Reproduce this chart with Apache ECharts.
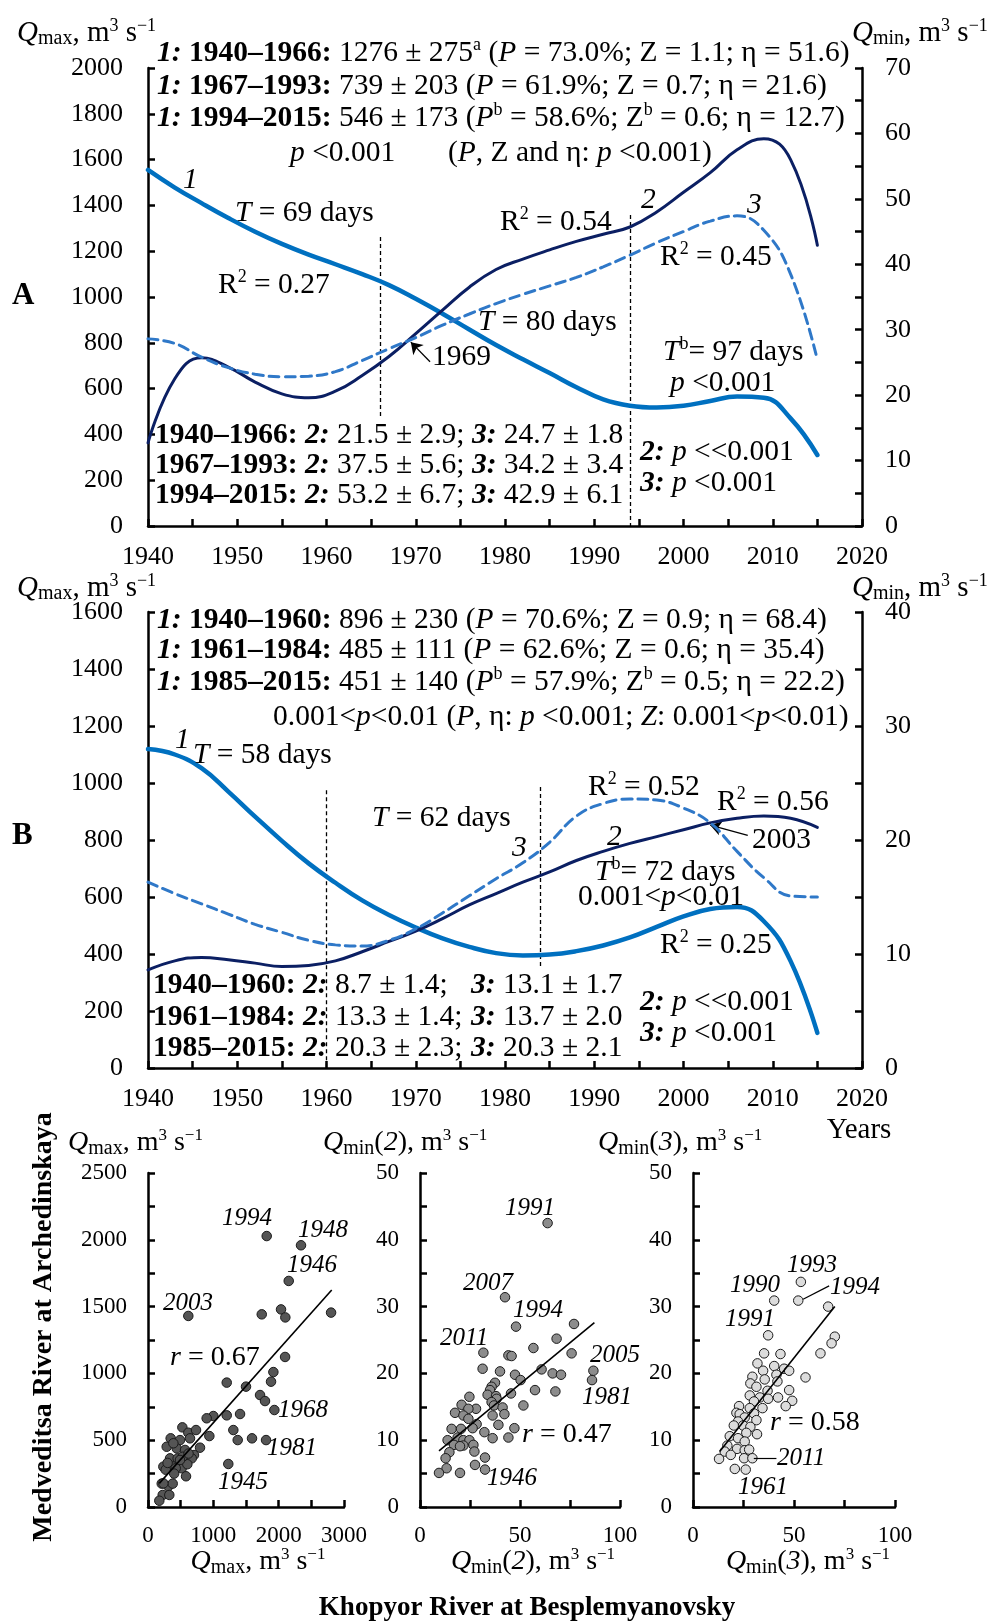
<!DOCTYPE html>
<html><head><meta charset="utf-8">
<script src="https://cdn.jsdelivr.net/npm/echarts@6/dist/echarts.min.js"></script>
<style>html,body{margin:0;padding:0;background:#fff}#c{width:994px;height:1622px}</style>
</head><body><div id="c"></div>
<script>
// ---------- DATA ----------
// Years sampled every 3 years, 1940-2015
const years = [1940,1943,1946,1949,1952,1955,1958,1961,1964,1967,1970,1973,1976,1979,1982,1985,1988,1991,1994,1997,2000,2003,2006,2009,2012,2015];
// Panel A (Medveditsa): curve 1 = Qmax (left axis), curves 2,3 = Qmin (right axis)
const aQmax  = [1555,1478,1410,1345,1285,1232,1185,1143,1100,1052,992,927,858,790,728,668,606,553,525,517,525,546,565,560,470,310];
const aQmin2 = [12.7,22.5,25.7,24.3,22.0,20.2,19.6,20.6,23.0,25.9,29.4,33.0,36.5,39.2,40.8,42.2,43.5,44.6,45.7,48.0,51.0,54.0,57.5,59.2,56.0,42.9];
const aQmin3 = [28.6,27.9,25.8,24.2,23.2,22.8,22.9,23.6,25.3,27.1,28.8,30.7,32.4,34.0,35.4,36.7,38.0,39.6,41.4,43.3,45.0,46.6,47.4,45.2,38.5,25.4];
// Panel B (Khopyor)
const bQmax  = [1119,1100,1052,970,882,797,718,650,588,537,493,455,425,403,395,398,410,430,458,495,532,558,565,515,375,123];
const bQmin2 = [8.6,9.4,9.7,9.5,9.2,8.9,9.0,9.4,10.2,11.1,12.0,13.1,14.3,15.3,16.3,17.2,18.2,19.0,19.7,20.3,20.9,21.5,21.9,22.1,21.9,21.1];
const bQmin3 = [16.3,15.3,14.4,13.5,12.6,11.9,11.2,10.8,10.7,11.2,12.2,13.6,15.1,16.6,18.0,19.8,22.1,23.2,23.6,23.5,22.8,21.5,19.0,16.7,15.1,15.0];
// Period boundaries (vertical dashed lines): [year, yTop, yBottom] on left axis
const aBreaks = [[1966,1262,476],[1994,1358,0]];
const bBreaks = [[1960,975,0],[1984,986,358]];
// Scatter: [Khopyor, Medveditsa]
const scQmax = [[1817,2028],[2342,1959],[2154,1692],[617,1430],[1741,1442],[2036,1479],[2102,1419],[2802,1455],[2098,1123],[1919,1010],[1883,938],[1500,901],[1205,931],[1715,838],[1791,793],[1934,726],[1409,696],[1205,686],[1000,681],[898,664],[1306,576],[939,531],[1373,501],[1592,514],[1807,501],[1229,322],
 [526,596],[617,556],[735,576],[643,514],[490,501],[347,514],[796,444],[704,389],[439,439],[567,427],[337,364],[454,364],[669,364],[235,302],[388,302],[516,290],[602,320],[271,279],[424,290],[582,230],[210,175],[311,155],[378,175],[225,90],[326,90],[173,47],[531,376],[286,451],[388,477],[490,352],[235,177],[620,400],[400,250],[300,330]];
const scQmin2 = [[63.8,42.5],[42.5,31.4],[48,27.0],[77,27.4],[68.3,25.2],[56.7,23.8],[75.8,23.0],[31.7,23.1],[44.2,22.7],[45.8,22.6],[31.3,20.7],[60.8,20.6],[66.3,20.0],[70.5,19.8],[86.7,20.4],[86,19.0],[47.5,19.8],[50.3,19.0],[40,20.3],[37.5,18.6],[35.8,18.0],[35,17.5],[57.5,17.5],[67.7,17.3],[45.5,17.0],[33.8,16.8],[38,16.6],[24.7,16.5],[38.3,16.2],[51.7,15.2],[35.8,15.7],[37,15.2],[20.8,15.3],[41.3,14.9],[28,14.7],[24.2,14.7],[17.5,14.1],[42.2,13.9],[36.3,13.7],[21.7,13.7],[24.2,13.2],[39.2,12.3],[28.3,12.4],[15.8,11.7],[20.5,11.7],[47.2,11.8],[26.3,11.8],[32.2,11.2],[36.3,10.3],[44.2,10.4],[13.8,10.0],[18.8,10.4],[21.7,10.0],[24.7,10.0],[17,9.3],[21.7,9.2],[20,9.1],[26.7,9.3],[14.7,8.2],[27.2,8.3],[12.8,7.3],[32.5,7.4],[27.5,6.3],[13.3,5.8],[32.5,5.6],[9.5,5.1],[20,5.1]];
const scQmin3 = [[53.4,33.7],[40.2,30.9],[52.1,30.9],[66.9,30.0],[37.2,25.7],[70.2,25.5],[68.6,24.5],[63.1,23.0],[35.2,23.0],[43.3,22.9],[31.9,21.5],[40.2,21.1],[34.7,20.4],[45.1,20.7],[47.6,20.4],[41.3,19.8],[55.7,19.4],[29.4,19.5],[35.5,19.1],[41.8,18.8],[28.4,18.5],[31.4,18.0],[36.9,17.4],[47.6,17.5],[28.1,16.7],[33.1,16.4],[42.1,16.4],[37.2,16.2],[49.1,15.9],[30.2,15.8],[45.9,15.1],[22.8,15.1],[34.4,14.8],[28.1,14.8],[21.5,14.1],[23.1,13.9],[30.2,14.0],[25.6,13.4],[31.4,13.0],[22.3,12.8],[20.2,12.2],[24.8,12.2],[28.4,12.0],[26.4,11.1],[31.7,10.9],[18.2,10.6],[22.3,10.3],[25.6,9.8],[17,9.2],[21.8,8.7],[25.6,8.5],[27.8,8.6],[15.7,8.3],[18.7,7.8],[25.3,7.3],[29.4,7.3],[12.9,7.2],[20.7,5.7],[26.1,5.6]];
const fitQmax  = [[173,177],[2812,1624]];
const fitQmin2 = [[9.5,8.4],[87.2,27.6]];
const fitQmin3 = [[13.2,8.3],[70.2,30.0]];
// Arrows / leaders (data coords)
const arrow1969 = [[1971.6,25.1],[1969.45,28.1]];
const arrow2003 = [[2007.2,20.4],[2003.0,21.3]];
const leader1994 = [[54.5,31.1],[67.4,33.1]];
const leader2011 = [[30.1,7.3],[41.3,7.3]];

// ---------- STYLE ----------
const F = 'Liberation Serif';
const C1 = '#0070C0', C2 = '#0B1F63', C3 = '#2F78C8';
const zip = (xs, ys) => xs.map((x, i) => [x, ys[i]]);
function mkRich(fs) {
  const base = {fontFamily: F, fontSize: fs, lineHeight: fs + 3, fill: '#000'};
  const sfs = Math.round(fs * 0.62), bfs = Math.round(fs * 0.7);
  return {
    r: Object.assign({}, base, {fontStyle: 'normal', fontWeight: 'normal'}),
    i: Object.assign({}, base, {fontStyle: 'italic', fontWeight: 'normal'}),
    b: Object.assign({}, base, {fontStyle: 'normal', fontWeight: 'bold'}),
    bi: Object.assign({}, base, {fontStyle: 'italic', fontWeight: 'bold'}),
    sup: {fontFamily: F, fontSize: sfs, lineHeight: sfs, verticalAlign: 'top', fill: '#000', fontStyle: 'normal', fontWeight: 'normal'},
    sub: {fontFamily: F, fontSize: bfs, lineHeight: bfs + 2, verticalAlign: 'bottom', fill: '#000', fontStyle: 'normal', fontWeight: 'normal'}
  };
}
function T(x, y, text, fs, align, rot) {
  fs = fs || 29.5; align = align || 'left';
  return {type: 'text', x: x, y: y, rotation: rot || 0, z: 100, silent: true,
    style: {text: text, rich: mkRich(fs), fill: '#000', fontFamily: F, fontSize: fs,
      align: align, verticalAlign: 'middle', textAlign: align, textVerticalAlign: 'middle'}};
}
const unitMax = '{i|Q}{sub|max}{r|, m}{sup|3}{r| s}{sup|−1}';
const unitMin = '{i|Q}{sub|min}{r|, m}{sup|3}{r| s}{sup|−1}';
const unitMinN = n => '{i|Q}{sub|min}{r|(}{i|' + n + '}{r|), m}{sup|3}{r| s}{sup|−1}';

const axLine = {show: true, onZero: false, lineStyle: {color: '#000', width: 2.5}};
const axTick = {show: true, inside: true, length: 7, lineStyle: {color: '#000', width: 2.5}};
const lab = (fs, margin, fmt) => ({show: true, fontFamily: F, fontSize: fs, color: '#000', margin: margin, formatter: fmt});
const every = n => (v => (Math.round(v) % n === 0 ? String(v) : ''));

function xAx(grid, min, max, interval, step, fs, margin) {
  return {type: 'value', gridIndex: grid, min, max, interval, axisLine: axLine, axisTick: axTick,
    splitLine: {show: false}, axisLabel: lab(fs, margin, every(step))};
}
function yAx(grid, min, max, interval, step, pos, fs, margin) {
  return {type: 'value', gridIndex: grid, position: pos, min, max, interval, axisLine: axLine, axisTick: axTick,
    splitLine: {show: false}, axisLabel: lab(fs, margin, every(step))};
}
const curve = (name, xi, yi, data, color, width, dash) => ({
  name, type: 'line', xAxisIndex: xi, yAxisIndex: yi, data, smooth: 0.45, showSymbol: false,
  lineStyle: {color, width, type: dash || 'solid', cap: 'round'}, itemStyle: {color}, z: 5, silent: true
});
const vLines = brks => ({silent: true, symbol: ['none', 'none'], label: {show: false}, emphasis: {disabled: true},
  lineStyle: {color: '#000', width: 1.3, type: [4, 3]},
  data: brks.map(b => [{coord: [b[0], b[1]]}, {coord: [b[0], b[2]]}])});
const arrowML = seg => ({silent: true, symbol: ['none', 'arrow'], symbolSize: 11, label: {show: false}, emphasis: {disabled: true},
  lineStyle: {color: '#000', width: 1.3, type: 'solid'},
  data: [[{coord: seg[0]}, {coord: seg[1]}]]});
const leaderML = segs => ({silent: true, symbol: ['none', 'none'], label: {show: false}, emphasis: {disabled: true},
  lineStyle: {color: '#000', width: 1.2, type: 'solid'},
  data: segs.map(s => [{coord: s[0]}, {coord: s[1]}])});
const scat = (xi, yi, data, fill, ml) => ({type: 'scatter', xAxisIndex: xi, yAxisIndex: yi, data, symbolSize: 9.5,
  itemStyle: {color: fill, borderColor: '#1a1a1a', borderWidth: 1, opacity: 1}, z: 4, silent: true, markLine: ml});
const fit = (xi, yi, data) => ({type: 'line', xAxisIndex: xi, yAxisIndex: yi, data, showSymbol: false,
  lineStyle: {color: '#000', width: 1.6}, z: 6, silent: true});

// ---------- TEXT ----------
const texts = [
  // Panel A
  T(17, 33, unitMax, 29), T(852, 33, unitMin, 29),
  T(157, 53, '{bi|1:} {b|1940–1966:} {r|1276 ± 275}{sup|a}{r| (}{i|P}{r| = 73.0%; Z = 1.1; η = 51.6)}'),
  T(157, 86, '{bi|1:} {b|1967–1993:} {r|739 ± 203 (}{i|P}{r| = 61.9%; Z = 0.7; η = 21.6)}'),
  T(157, 118, '{bi|1:} {b|1994–2015:} {r|546 ± 173 (}{i|P}{sup|b}{r| = 58.6%; Z}{sup|b}{r| = 0.6; η = 12.7)}'),
  T(290, 153, '{i|p}{r| <0.001}'),
  T(448, 153, '{r|(}{i|P}{r|, Z and η: }{i|p}{r| <0.001)}'),
  T(183, 180, '{i|1}'),
  T(235, 213, '{i|T}{r| = 69 days}'),
  T(218, 285, '{r|R}{sup|2}{r| = 0.27}'),
  T(500, 222, '{r|R}{sup|2}{r| = 0.54}'),
  T(641, 200, '{i|2}'), T(747, 205, '{i|3}'),
  T(660, 257, '{r|R}{sup|2}{r| = 0.45}'),
  T(478, 322, '{i|T}{r| = 80 days}'),
  T(432, 357, '{r|1969}'),
  T(663, 352, '{i|T}{sup|b}{r|= 97 days}'),
  T(670, 383, '{i|p}{r| <0.001}'),
  T(12, 296, '{b|A}', 31),
  T(155, 435, '{b|1940–1966: }{bi|2:}{r| 21.5 ± 2.9; }{bi|3:}{r| 24.7 ± 1.8}'),
  T(155, 465, '{b|1967–1993: }{bi|2:}{r| 37.5 ± 5.6; }{bi|3:}{r| 34.2 ± 3.4}'),
  T(155, 495, '{b|1994–2015: }{bi|2:}{r| 53.2 ± 6.7; }{bi|3:}{r| 42.9 ± 6.1}'),
  T(640, 452, '{bi|2:} {i|p}{r| <<0.001}'),
  T(640, 483, '{bi|3:} {i|p}{r| <0.001}'),
  // Panel B
  T(17, 588, unitMax, 29), T(852, 588, unitMin, 29),
  T(157, 620, '{bi|1:} {b|1940–1960:} {r|896 ± 230 (}{i|P}{r| = 70.6%; Z = 0.9; η = 68.4)}'),
  T(157, 650, '{bi|1:} {b|1961–1984:} {r|485 ± 111 (}{i|P}{r| = 62.6%; Z = 0.6; η = 35.4)}'),
  T(157, 682, '{bi|1:} {b|1985–2015:} {r|451 ± 140 (}{i|P}{sup|b}{r| = 57.9%; Z}{sup|b}{r| = 0.5; η = 22.2)}'),
  T(273, 717, '{r|0.001<}{i|p}{r|<0.01 (}{i|P}{r|, η: }{i|p}{r| <0.001; }{i|Z}{r|: 0.001<}{i|p}{r|<0.01)}'),
  T(175, 740, '{i|1}'),
  T(193, 755, '{i|T}{r| = 58 days}'),
  T(372, 818, '{i|T}{r| = 62 days}'),
  T(512, 848, '{i|3}'), T(607, 837, '{i|2}'),
  T(588, 787, '{r|R}{sup|2}{r| = 0.52}'),
  T(717, 802, '{r|R}{sup|2}{r| = 0.56}'),
  T(752, 840, '{r|2003}'),
  T(595, 872, '{i|T}{sup|b}{r|= 72 days}'),
  T(578, 897, '{r|0.001<}{i|p}{r|<0.01}'),
  T(660, 945, '{r|R}{sup|2}{r| = 0.25}'),
  T(12, 836, '{b|B}', 31),
  T(153, 985, '{b|1940–1960: }{bi|2:}{r| 8.7 ± 1.4;}'), T(471, 985, '{bi|3:}{r| 13.1 ± 1.7}'),
  T(153, 1017, '{b|1961–1984: }{bi|2:}{r| 13.3 ± 1.4;}'), T(471, 1017, '{bi|3:}{r| 13.7 ± 2.0}'),
  T(153, 1048, '{b|1985–2015: }{bi|2:}{r| 20.3 ± 2.3;}'), T(471, 1048, '{bi|3:}{r| 20.3 ± 2.1}'),
  T(640, 1002, '{bi|2:} {i|p}{r| <<0.001}'),
  T(640, 1033, '{bi|3:} {i|p}{r| <0.001}'),
  T(859, 1130, '{r|Years}', 29, 'center'),
  // Scatter titles
  T(68, 1143, unitMax, 28), T(323, 1143, unitMinN(2), 28), T(598, 1143, unitMinN(3), 28),
  T(258, 1562, unitMax, 28, 'center'), T(533, 1562, unitMinN(2), 28, 'center'), T(808, 1562, unitMinN(3), 28, 'center'),
  T(527, 1608, '{b|Khopyor River at Besplemyanovsky}', 27, 'center'),
  T(44, 1327, '{b|Medveditsa River at Archedinskaya}', 28, 'center', Math.PI / 2),
  // Scatter 1 labels
  T(222, 1218, '{i|1994}', 25), T(298, 1230, '{i|1948}', 25), T(287, 1265, '{i|1946}', 25), T(163, 1303, '{i|2003}', 25),
  T(170, 1358, '{i|r}{r| = 0.67}', 28), T(278, 1410, '{i|1968}', 25), T(267, 1448, '{i|1981}', 25), T(218, 1482, '{i|1945}', 25),
  // Scatter 2 labels
  T(505, 1208, '{i|1991}', 25), T(463, 1283, '{i|2007}', 25), T(513, 1310, '{i|1994}', 25), T(440, 1338, '{i|2011}', 25),
  T(590, 1355, '{i|2005}', 25), T(582, 1397, '{i|1981}', 25), T(522, 1435, '{i|r}{r| = 0.47}', 28), T(487, 1478, '{i|1946}', 25),
  // Scatter 3 labels
  T(787, 1265, '{i|1993}', 25), T(730, 1285, '{i|1990}', 25), T(830, 1287, '{i|1994}', 25), T(725, 1319, '{i|1991}', 25),
  T(770, 1423, '{i|r}{r| = 0.58}', 28), T(777, 1458, '{i|2011}', 25), T(738, 1487, '{i|1961}', 25)
];

// ---------- CHART ----------
const chart = echarts.init(document.getElementById('c'), null, {renderer: 'canvas'});
const option = {
  animation: false,
  backgroundColor: '#fff',
  textStyle: {fontFamily: F},
  grid: [
    {left: 148, top: 68, width: 714, height: 458},
    {left: 148, top: 612, width: 714, height: 456},
    {left: 148, top: 1173, width: 196, height: 334},
    {left: 420, top: 1173, width: 200, height: 334},
    {left: 693, top: 1173, width: 202, height: 334}
  ],
  xAxis: [
    xAx(0, 1940, 2020, 5, 10, 26, 18),
    xAx(1, 1940, 2020, 5, 10, 26, 18),
    xAx(2, 0, 3000, 500, 1000, 23, 17),
    xAx(3, 0, 100, 25, 50, 23, 17),
    xAx(4, 0, 100, 25, 50, 23, 17)
  ],
  yAxis: [
    yAx(0, 0, 2000, 200, 200, 'left', 26, 25),
    yAx(0, 0, 70, 5, 10, 'right', 26, 23),
    yAx(1, 0, 1600, 200, 200, 'left', 26, 25),
    yAx(1, 0, 40, 5, 10, 'right', 26, 23),
    yAx(2, 0, 2500, 250, 500, 'left', 23, 21),
    yAx(3, 0, 50, 5, 10, 'left', 23, 21),
    yAx(4, 0, 50, 5, 10, 'left', 23, 21)
  ],
  series: [
    Object.assign(curve('A1', 0, 0, zip(years, aQmax), C1, 4.5), {markLine: vLines(aBreaks)}),
    Object.assign(curve('A2', 0, 1, zip(years, aQmin2), C2, 3), {markLine: arrowML(arrow1969)}),
    curve('A3', 0, 1, zip(years, aQmin3), C3, 3, [10, 6]),
    Object.assign(curve('B1', 1, 2, zip(years, bQmax), C1, 4.5), {markLine: vLines(bBreaks)}),
    Object.assign(curve('B2', 1, 3, zip(years, bQmin2), C2, 3), {markLine: arrowML(arrow2003)}),
    curve('B3', 1, 3, zip(years, bQmin3), C3, 3, [10, 6]),
    scat(2, 4, scQmax, '#555555'),
    fit(2, 4, fitQmax),
    scat(3, 5, scQmin2, '#8c8c8c'),
    fit(3, 5, fitQmin2),
    scat(4, 6, scQmin3, '#dcdcdc', leaderML([leader1994, leader2011])),
    fit(4, 6, fitQmin3)
  ],
  graphic: {elements: texts}
};
chart.setOption(option);
</script></body></html>
